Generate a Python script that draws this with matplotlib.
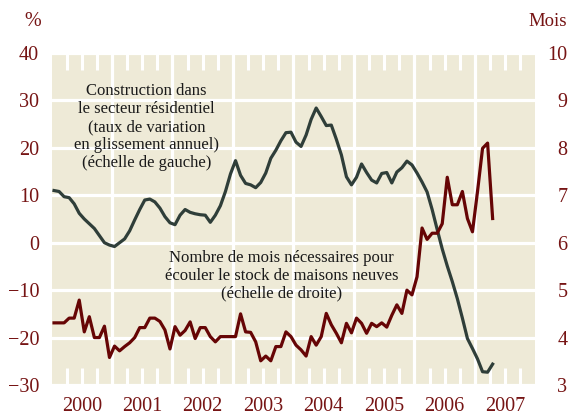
# Construction résidentielle et stock de maisons neuves, 2000-2007

import numpy as np
import matplotlib.pyplot as plt

plt.rcParams['font.family'] = ['Liberation Serif', 'DejaVu Serif']

###### DATA ######

# construction dans le secteur résidentiel, % en glissement annuel (échelle de gauche)
construction = [11, 10.8, 9.7, 9.5, 8.2, 6.2, 5, 4, 3, 1.5, 0, -0.5,
                -0.8, 0, 0.8, 2.5, 4.8, 7, 9, 9.2, 8.6, 7.3, 5.5, 4.2,
                3.8, 5.8, 7, 6.4, 6.1, 5.9, 5.8, 4.3, 5.8, 7.8, 10.8, 14.5,
                17.3, 14.2, 12.5, 12.2, 11.6, 12.7, 14.7, 17.8, 19.5, 21.5, 23.2, 23.3,
                21.2, 20.3, 22.7, 26, 28.4, 26.6, 24.7, 24.8, 21.8, 18.5, 13.9, 12.2,
                13.8, 16.6, 14.8, 13.2, 12.6, 14.6, 14.8, 12.6, 14.9, 15.8, 17.2, 16.4,
                14.7, 12.8, 10.7, 7.0, 2.8, -1.3, -4.9, -8.2, -11.8, -15.9, -20.2, -22.3,
                -24.5, -27.2, -27.3, -25.6]

# nombre de mois nécessaires pour écouler le stock (échelle de droite)
mois_stock = [4.31, 4.31, 4.31, 4.41, 4.41, 4.79, 4.12, 4.44, 4.0, 4.0, 4.24, 3.58,
              3.82, 3.72, 3.81, 3.89, 4.0, 4.21, 4.21, 4.41, 4.41, 4.34, 4.16, 3.76,
              4.23, 4.05, 4.15, 4.33, 3.98, 4.21, 4.21, 4.02, 3.91, 4.02, 4.02, 4.02,
              4.02, 4.50, 4.12, 4.11, 3.91, 3.51, 3.61, 3.51, 3.81, 3.81, 4.12, 4.02,
              3.84, 3.74, 3.61, 4.02, 3.84, 4.02, 4.51, 4.27, 4.09, 3.89, 4.30, 4.10,
              4.41, 4.30, 4.09, 4.30, 4.23, 4.31, 4.22, 4.47, 4.69, 4.51, 5.00, 4.90,
              5.28, 6.31, 6.07, 6.20, 6.20, 6.40, 7.38, 6.80, 6.80, 7.08, 6.51, 6.23,
              7.08, 7.99, 8.10, 6.51]

years = list(range(2000, 2008))
left_ticks = list(range(-30, 41, 10))
right_ticks = list(range(3, 11))

# monthly points, middle of the month
t = 2000 + (np.arange(len(construction)) + 0.5) / 12

###### STYLE ######

bg = '#EEEAD7'
green = '#2F3E39'
red = '#660505'
label_red = '#761414'
fs_ticks = 14.5
fs_notes = 12

fig = plt.figure(figsize=(5.71, 4.15), dpi=100)
ax = fig.add_axes([0.0902, 0.0723, 0.8476, 0.8000])
ax.set_facecolor(bg)
for s in ax.spines.values():
    s.set_visible(False)

ax.set_xlim(2000, 2008)
ax.set_ylim(-30, 40)

# white grid: every 10 % and every year
ax.set_yticks(left_ticks)
ax.grid(axis='y', color='white', lw=2.3, zorder=1)
ax.vlines(years[1:], -30, 40, color='white', lw=2.3, zorder=1)

# quarterly white ticks top and bottom, year labels in the middle of each year
quarters = [y + q for y in years for q in (0.25, 0.5, 0.75)]
ax.set_xticks(quarters)
ax.set_xticklabels([])
ax.set_xticks([y + 0.5 for y in years], minor=True)
ax.set_xticklabels([str(y) for y in years], minor=True)
ax.xaxis.remove_overlapping_locs = False
ax.tick_params(axis='x', which='major', direction='in', length=12, width=2.2,
               color='white', top=True, bottom=True)
ax.tick_params(axis='x', which='minor', length=0, pad=9, labelsize=fs_ticks, labelcolor=label_red)
ax.tick_params(axis='y', length=0, pad=9, labelsize=fs_ticks, labelcolor=label_red)

ax.plot(t, construction, color=green, lw=2.3, zorder=3)

ax2 = ax.twinx()
for s in ax2.spines.values():
    s.set_visible(False)
ax2.set_ylim(3, 10)
ax2.set_yticks(right_ticks)
ax2.tick_params(axis='y', length=0, pad=23, labelsize=fs_ticks, labelcolor=label_red)
for lab in ax2.get_yticklabels():
    lab.set_horizontalalignment('right')
ax2.plot(t, mois_stock, color=red, lw=2.3, zorder=3)

ax.text(2001.57, 33.6, "Construction dans\nle secteur résidentiel\n(taux de variation\n"
        "en glissement annuel)\n(échelle de gauche)",
        ha='center', va='top', fontsize=fs_notes, linespacing=1.15, color='#1a1a1a', zorder=4)
ax.text(2003.8, -1.5, "Nombre de mois nécessaires pour\nécouler le stock de maisons neuves\n"
        "(échelle de droite)",
        ha='center', va='top', fontsize=fs_notes, linespacing=1.15, color='#1a1a1a', zorder=4)

fig.text(32.5 / 571, 1 - 22 / 415, "%", ha='center', va='center', fontsize=fs_ticks, color=label_red)
fig.text(567 / 571, 1 - 22 / 415, "Mois", ha='right', va='center', fontsize=fs_ticks - 1, color=label_red)

plt.savefig("out.png", dpi=100)
